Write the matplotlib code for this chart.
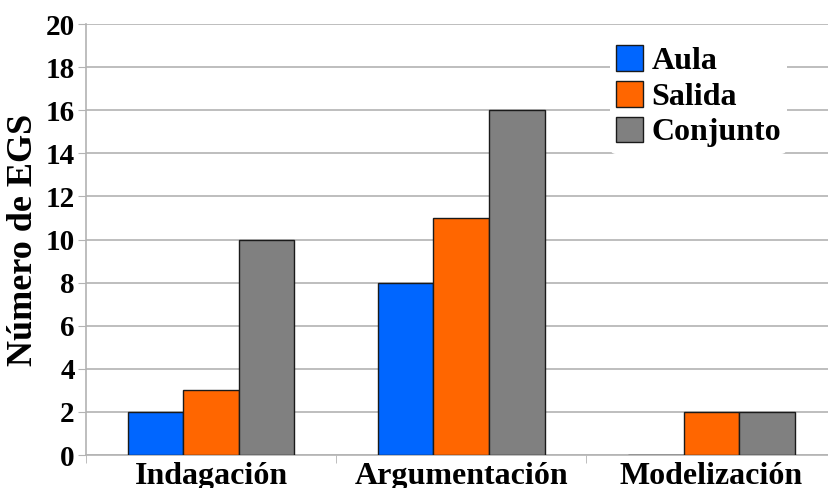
import numpy as np
import matplotlib.pyplot as plt

categories = ['Indagación', 'Argumentación', 'Modelización']
series = ['Aula', 'Salida', 'Conjunto']
aula = [2, 8, 0]
salida = [3, 11, 2]
conjunto = [10, 16, 2]
colors = ['#0066ff', '#ff6600', '#808080']

plt.rcParams['font.family'] = ['Liberation Serif', 'DejaVu Serif']
plt.rcParams['font.weight'] = 'bold'

fig = plt.figure(figsize=(8.29, 4.88), dpi=100)
ax = fig.add_axes([0.1037, 0.0676, 0.8963, 0.8832])

x = np.arange(len(categories))
w = 0.222
for i, (vals, name) in enumerate(zip([aula, salida, conjunto], series)):
    ax.bar(x + (i - 1) * w, vals, w, color=colors[i], edgecolor='#1a1a1a',
           linewidth=1.0, label=name, zorder=3)

ax.set_ylim(0, 20)
ax.set_xlim(-0.5, 2.47)
ax.set_yticks(np.arange(0, 21, 2))
ax.set_xticks(x)
ax.set_xticklabels(categories)
ax.set_xticks([-0.5, 0.5, 1.5], minor=True)
ax.tick_params(axis='x', which='major', length=0, labelsize=23, pad=5)
ax.tick_params(axis='x', which='minor', length=6, color='#b3b3b3')
ax.tick_params(axis='y', length=6, color='#b3b3b3', labelsize=21, pad=2)
ax.grid(axis='y', color='#b3b3b3', linewidth=1.2, zorder=0)
for s in ['top', 'right']:
    ax.spines[s].set_visible(False)
for s in ['left', 'bottom']:
    ax.spines[s].set_color('#b3b3b3')
    ax.spines[s].set_linewidth(1.2)

ax.set_ylabel('Número de EGS', fontsize=26, fontweight='bold', labelpad=4)

leg = ax.legend(loc='upper left', bbox_to_anchor=(0.705, 0.965), frameon=True,
                fontsize=23, handlelength=0.85, handleheight=0.85,
                handletextpad=0.25, labelspacing=0.15, borderpad=0.2,
                borderaxespad=0)
leg.get_frame().set_edgecolor('none')
leg.get_frame().set_facecolor('white')
leg.get_frame().set_alpha(1)
leg.set_zorder(5)

fig.savefig('out.png', dpi=100)
